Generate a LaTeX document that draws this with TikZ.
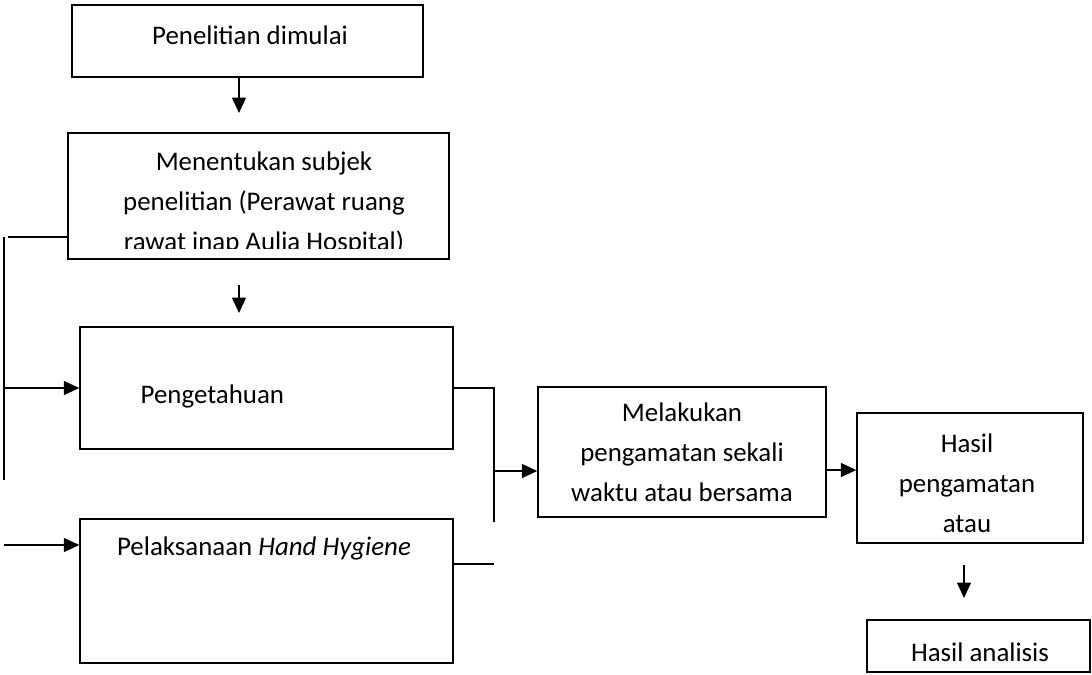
\documentclass[tikz,border=0pt]{standalone}
\usepackage{fontspec}
\setmainfont{Carlito}
\usetikzlibrary{arrows.meta}

\begin{document}
\begin{tikzpicture}[
  x=0.02cm, y=-0.02cm,
  kotak/.style={draw, inner sep=0pt, align=center, font=\fontsize{15.3}{22.8}\selectfont},
  teks/.style={inner sep=0pt, align=center, font=\fontsize{15.3}{22.8}\selectfont},
  panah/.style={-{Triangle[length=3.1mm, width=2.8mm]}},
  line width=0.8pt
]
  \useasboundingbox (0,0) rectangle (1092,674);

  \node[kotak, minimum width=7.02cm, minimum height=1.44cm] (b1) at (247.5, 41) {};
  \node[kotak, minimum width=7.62cm, minimum height=2.52cm] (b2) at (258.5, 196) {};
  \node[kotak, minimum width=7.46cm, minimum height=2.44cm] (b3) at (266.5, 388) {};
  \node[kotak, minimum width=7.46cm, minimum height=2.88cm] (b4) at (266.5, 591) {};
  \node[kotak, minimum width=5.76cm, minimum height=2.6cm] (b5) at (682, 452) {Melakukan\\pengamatan sekali\\waktu atau bersama};
  \node[kotak, minimum width=4.52cm, minimum height=2.6cm] (b6) at (970, 478) {};
  \node[kotak, minimum width=4.46cm, minimum height=1.04cm] (b7) at (978.5, 646) {};

  % teks yang tidak di tengah kotak
  \node[teks] (t1) at (250, 35) {Penelitian dimulai};
  \begin{scope}
    \clip (60,130) rectangle (460,248);
    \node[teks] (t2) at (264, 203) {Menentukan subjek\\penelitian (Perawat ruang\\rawat inap Aulia Hospital)};
  \end{scope}
  \node[teks, anchor=west] (t3) at (140, 396) {Pengetahuan};
  \node[teks] (t4) at (264, 548) {Pelaksanaan \textit{Hand Hygiene}};
  \node[teks] (t6) at (967, 483) {Hasil\\pengamatan\\atau};
  \node[teks] (t7) at (980, 652) {Hasil analisis};

  \coordinate (a1) at (239, 113);
  \coordinate (a2) at (239, 285);
  \coordinate (a3) at (239, 313);
  \coordinate (k1) at (8, 237);
  \coordinate (k2) at (4, 237);
  \coordinate (k3) at (4, 480);
  \coordinate (k4) at (4, 388);
  \coordinate (k5) at (4, 545);
  \coordinate (s1) at (494, 522);
  \coordinate (s2) at (494, 564);
  \coordinate (s3) at (494, 471);
  \coordinate (p) at (840, 470);
  \coordinate (h1) at (964, 565);
  \coordinate (h2) at (964, 598);

  \draw[panah] (b1.south -| a1) -- (a1);
  \draw[panah] (a2) -- (a3);
  \draw (k1) -- (b2.west |- k1);
  \draw (k2) -- (k3);
  \draw[panah] (k4) -- (b3.west);
  \draw[panah] (k5) -- (b4.west |- k5);
  \draw (b3.east) -| (s1);
  \draw (b4.east |- s2) -- (s2);
  \draw[panah] (s3) -- (b5.west |- s3);
  \draw[panah] (b5.east |- p) -- (b6.west |- p);
  \draw[panah] (h1) -- (h2);
\end{tikzpicture}
\end{document}
